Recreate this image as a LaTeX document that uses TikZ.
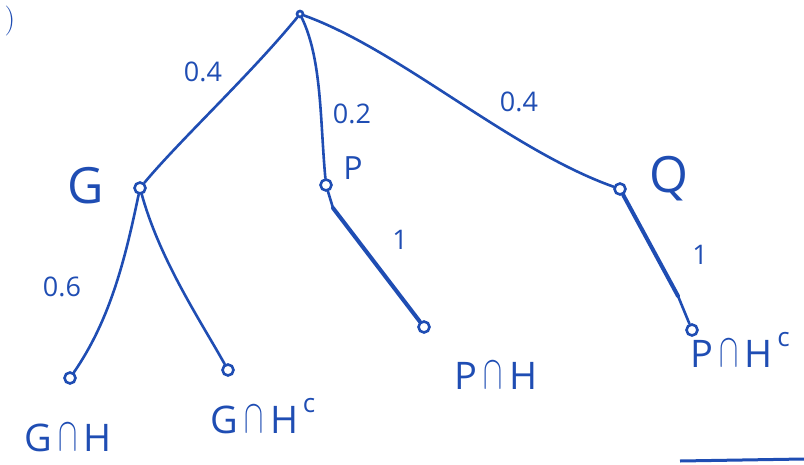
\documentclass[tikz,border=0pt]{standalone}
\usepackage{fontspec}
\setsansfont{Open Sans}
\definecolor{ink}{HTML}{1F4DB3}
\newcommand{\capx}{\,\raisebox{0.02em}{\scalebox{1.15}[1.9]{$\cap$}}\,}
\newcommand{\supc}{\hspace{0.12em}\raisebox{0.55em}{\fontsize{26}{28}\selectfont c}}
\begin{document}
\begin{tikzpicture}[x=1pt,y=-1pt,
  ink/.style={draw=ink,line width=2.6pt,line cap=round,line join=round},
  thick ink/.style={draw=ink,line width=4pt,line cap=round},
  dot/.style={circle,draw=ink,line width=2.6pt,inner sep=0pt,minimum size=11pt},
  lab/.style={text=ink,font=\sffamily\fontsize{38}{42}\selectfont,inner sep=0pt},
  big/.style={text=ink,font=\sffamily\fontsize{50}{56}\selectfont,inner sep=0pt},
  num/.style={text=ink,font=\sffamily\fontsize{27}{30}\selectfont,inner sep=0pt}]
\useasboundingbox (0,0) rectangle (804,464);
\node[dot,minimum size=6pt] (r) at (300,14) {};
\node[dot] (g) at (140,188) {};
\node[dot] (p) at (326,185) {};
\node[dot] (q) at (620,189) {};
\node[dot] (gh) at (70,378) {};
\node[dot] (ghc) at (228,370) {};
\node[dot] (ph) at (424,327) {};
\node[dot] (phc) at (692,330) {};
\coordinate (pk) at (333,208);
\coordinate (qk) at (678,296);
% edges
\draw[ink] (r) .. controls (250,75) and (180,140) .. (g);
\draw[ink] (r) .. controls (322,60) and (320,120) .. (p);
\draw[ink] (r) .. controls (400,50) and (510,150) .. (q);
\draw[ink] (g) .. controls (125,260) and (110,320) .. (gh);
\draw[ink] (g) .. controls (160,260) and (200,320) .. (ghc);
\draw[ink] (p) -- (pk);
\draw[thick ink] (pk) -- (ph);
\draw[thick ink] (q) -- (qk);
\draw[ink] (qk) -- (phc);
\coordinate (ls) at (680,461);
\coordinate (le) at (804,459);
\draw[draw=ink,line width=3pt] (ls) -- (le);
% labels
\node[text=ink,font=\fontsize{30}{34}\selectfont,inner sep=0pt] (paren) at (10,21) {)};
\node[num] (l1) at (203,72) {0.4};
\node[num] (l2) at (352,114) {0.2};
\node[num] (l3) at (519,102) {0.4};
\node[num] (l4) at (62,287) {0.6};
\node[num] (l5) at (400,240) {1};
\node[num] (l6) at (700,255) {1};
\node[big] (lg) at (86,186) {G};
\node[lab,font=\sffamily\fontsize{32}{36}\selectfont] (lp) at (353,168) {P};
\node[big] (lq) at (669,179) {Q};
\node[lab] (tgh) at (68,438) {G\capx H};
\node[lab] (tghc) at (263,416) {G\capx H\supc};
\node[lab] (tph) at (496,376) {P\capx H};
\node[lab] (tphc) at (740,350) {P\capx H\supc};
\end{tikzpicture}
\end{document}
